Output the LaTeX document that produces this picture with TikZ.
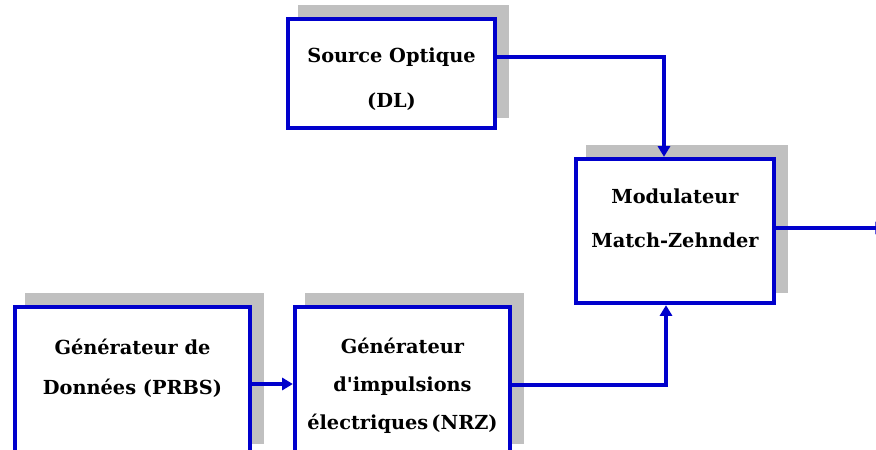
\documentclass[tikz,border=0pt]{standalone}
\usepackage{fontspec}
\setmainfont{DejaVu Serif}
\usetikzlibrary{arrows.meta,shadows}

\definecolor{boxblue}{RGB}{0,0,204}
\definecolor{shadowgray}{RGB}{192,192,192}
\newcommand\lblfont[1]{\bfseries\fontsize{14.5}{#1}\selectfont}

\tikzset{
  block/.style={draw=boxblue, line width=3.2pt, fill=white,
    general shadow={fill=shadowgray, draw=shadowgray, line width=3.2pt,
      shadow xshift=9pt, shadow yshift=9pt}},
  txt/.style={align=center, inner sep=0pt},
  conn/.style={draw=boxblue, line width=2.8pt,
    -{Triangle[length=8pt,width=9pt]}},
}

\begin{document}
\begin{tikzpicture}[x=0.75pt,y=0.75pt,yscale=-1,xscale=1]
\useasboundingbox (0,0) rectangle (876,450);

% Blocks
\node[block, minimum width=155.25pt, minimum height=81.75pt] (src) at (391.5,73.5) {};
\node[block, minimum width=148.5pt, minimum height=108pt] (mzm) at (675,231) {};
\node[block, minimum width=176.6pt, minimum height=110pt] (prbs) at (132.5,380.5) {};
\node[block, minimum width=161.25pt, minimum height=110pt] (nrz) at (402.5,380.5) {};

% Text Node
\node[txt, font=\lblfont{34pt}] (srct) at (391.5,79) {Source Optique\\(DL)};
% Text Node
\node[txt, font=\lblfont{33pt}] (mzmt) at (675,218) {Modulateur\\Match-Zehnder};
% Text Node
\node[txt, font=\lblfont{30pt}] (prbst) at (132.5,368) {Générateur de\\Données (PRBS)};
% Text Node
\node[txt, font=\lblfont{28.5pt}] (nrzt) at (402.5,386) {Générateur\\d\textquotesingle impulsions\\électriques\,(NRZ)};

% Connectors
\draw[conn] (src.east |- 0,57) -| ([xshift=-8.25pt]mzm.north);
\draw[conn] (prbs.east |- 0,384) -- (nrz.west |- 0,384);
\draw[conn] (nrz.east |- 0,385) -| ([xshift=-6.75pt]mzm.south);
\draw[conn] (mzm.east |- 0,228) -- (886,228);

\end{tikzpicture}
\end{document}
